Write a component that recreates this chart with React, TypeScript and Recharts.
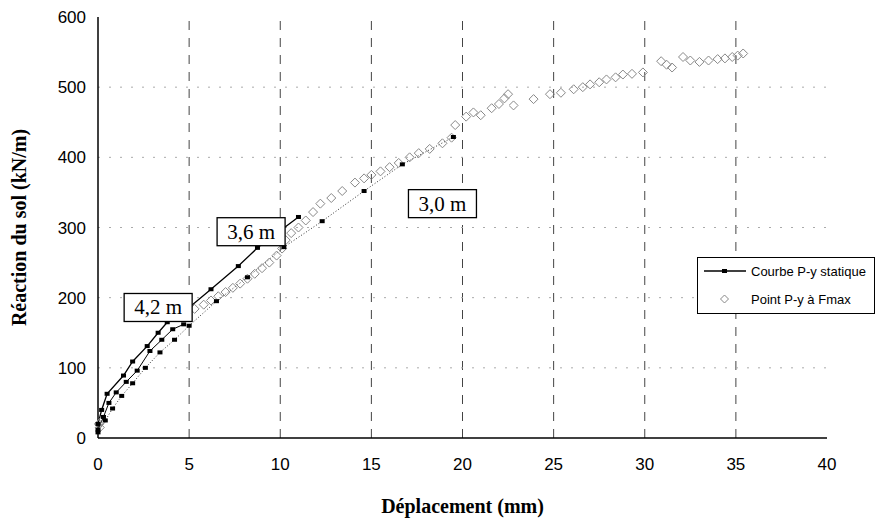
import React from "react";
import {
  ComposedChart,
  Line,
  Scatter,
  XAxis,
  YAxis,
  ReferenceLine,
  ReferenceDot,
} from "recharts";

// static P-y curves, one per depth (displacement mm, reaction kN/m)
const curve42 = [
  { x: 0, y: 12 }, { x: 0.3, y: 30 }, { x: 0.6, y: 50 }, { x: 1.0, y: 65 },
  { x: 1.55, y: 80 }, { x: 2.15, y: 96 }, { x: 2.85, y: 124 }, { x: 3.5, y: 140 },
  { x: 4.1, y: 155 }, { x: 4.7, y: 162 },
];
const curve36 = [
  { x: 0, y: 20 }, { x: 0.2, y: 40 }, { x: 0.5, y: 63 }, { x: 1.4, y: 89 },
  { x: 1.9, y: 109 }, { x: 2.7, y: 131 }, { x: 3.3, y: 150 }, { x: 3.8, y: 165 },
  { x: 5.0, y: 186 }, { x: 6.2, y: 212 }, { x: 7.7, y: 245 }, { x: 8.75, y: 271 },
  { x: 11.0, y: 315 },
];
const curve30 = [
  { x: 0, y: 8 }, { x: 0.4, y: 25 }, { x: 0.8, y: 42 }, { x: 1.3, y: 60 },
  { x: 1.9, y: 78 }, { x: 2.6, y: 100 }, { x: 3.4, y: 122 }, { x: 4.2, y: 140 },
  { x: 5.0, y: 160 }, { x: 6.5, y: 195 }, { x: 8.2, y: 229 }, { x: 10.2, y: 272 },
  { x: 12.3, y: 309 }, { x: 14.6, y: 352 }, { x: 16.7, y: 390 }, { x: 19.5, y: 429 },
];

// P-y points at Fmax
const fmaxPoints = [
  { x: 0.05, y: 20 }, { x: 0.1, y: 15 }, { x: 0.2, y: 24 },
  { x: 5.3, y: 184 }, { x: 5.8, y: 190 }, { x: 6.2, y: 196 }, { x: 6.6, y: 202 },
  { x: 7.0, y: 208 }, { x: 7.4, y: 214 }, { x: 7.8, y: 220 }, { x: 8.2, y: 227 },
  { x: 8.6, y: 234 }, { x: 9.0, y: 242 }, { x: 9.4, y: 250 }, { x: 9.8, y: 260 },
  { x: 10.1, y: 270 }, { x: 10.3, y: 282 }, { x: 10.6, y: 292 }, { x: 11.0, y: 300 },
  { x: 11.4, y: 310 }, { x: 11.8, y: 322 }, { x: 12.2, y: 334 }, { x: 12.8, y: 342 },
  { x: 13.4, y: 352 }, { x: 14.1, y: 364 }, { x: 14.6, y: 370 }, { x: 15.0, y: 375 },
  { x: 15.5, y: 380 }, { x: 16.0, y: 386 }, { x: 16.5, y: 392 }, { x: 17.1, y: 400 },
  { x: 17.6, y: 406 }, { x: 18.2, y: 412 }, { x: 18.9, y: 420 }, { x: 19.4, y: 428 },
  { x: 19.6, y: 446 }, { x: 20.2, y: 458 }, { x: 20.6, y: 464 }, { x: 21.0, y: 460 },
  { x: 21.6, y: 470 }, { x: 22.0, y: 476 }, { x: 22.3, y: 484 }, { x: 22.5, y: 490 },
  { x: 22.8, y: 474 }, { x: 23.9, y: 483 }, { x: 24.8, y: 490 }, { x: 25.4, y: 492 },
  { x: 26.1, y: 497 }, { x: 26.6, y: 500 }, { x: 27.0, y: 504 }, { x: 27.5, y: 507 },
  { x: 27.9, y: 511 }, { x: 28.4, y: 514 }, { x: 28.8, y: 518 }, { x: 29.3, y: 519 },
  { x: 29.9, y: 521 }, { x: 30.9, y: 537 }, { x: 31.2, y: 532 }, { x: 31.5, y: 528 },
  { x: 32.1, y: 543 }, { x: 32.5, y: 538 }, { x: 33.0, y: 536 }, { x: 33.5, y: 538 },
  { x: 34.0, y: 540 }, { x: 34.4, y: 541 }, { x: 34.8, y: 543 }, { x: 35.1, y: 545 },
  { x: 35.4, y: 548 },
];

// depth labels (box centres)
const depthLabels = [
  { x: 3.3, y: 186, text: "4,2 m" },
  { x: 8.4, y: 294, text: "3,6 m" },
  { x: 18.9, y: 334, text: "3,0 m" },
];

const xTicks = [0, 5, 10, 15, 20, 25, 30, 35, 40];
const yTicks = [0, 100, 200, 300, 400, 500, 600];

const sans = "'Liberation Sans', Arial, sans-serif";
const serif = "'Liberation Serif', 'Times New Roman', serif";

const SquareDot = (p: any) => {
  if (p.cx == null || p.cy == null) return <g />;
  return <rect x={p.cx - 2.5} y={p.cy - 2} width={5} height={4} fill="#000" />;
};

const Diamond = (p: any) => {
  const { cx, cy } = p;
  const r = 4.5;
  return (
    <path
      d={`M${cx},${cy - r}L${cx + r},${cy}L${cx},${cy + r}L${cx - r},${cy}Z`}
      fill="none"
      stroke="#888"
      strokeWidth={1}
    />
  );
};

const LabelBox = (text: string) => (p: any) => (
  <g>
    <rect x={p.cx - 34} y={p.cy - 14} width={68} height={28} fill="#fff" stroke="#000" strokeWidth={1.3} />
    <text x={p.cx} y={p.cy + 7} textAnchor="middle" fontFamily={serif} fontSize={21} fill="#000">
      {text}
    </text>
  </g>
);

export default function App() {
  return (
    <div style={{ position: "absolute", left: 0, top: 0, width: 881, height: 528, background: "#fff" }}>
      <ComposedChart width={881} height={528} margin={{ top: 17, right: 54, left: 0, bottom: 10 }}>
        <XAxis
          type="number"
          dataKey="x"
          domain={[0, 40]}
          ticks={xTicks}
          tickSize={0}
          tickMargin={20}
          height={80}
          axisLine={{ stroke: "#000", strokeWidth: 1.5 }}
          tick={{ fontFamily: sans, fontSize: 17, fill: "#000" }}
          label={{
            value: "Déplacement (mm)",
            position: "insideBottom",
            offset: 5,
            style: { fontFamily: serif, fontWeight: "bold", fontSize: 20, fill: "#000" },
          }}
        />
        <XAxis xAxisId="top" orientation="top" type="number" domain={[0, 40]} tick={false} tickLine={false} height={0} axisLine={{ stroke: "#000", strokeWidth: 1.5 }} />
        <YAxis
          type="number"
          dataKey="y"
          domain={[0, 600]}
          ticks={yTicks}
          width={98}
          tickSize={0}
          tickMargin={12}
          axisLine={{ stroke: "#000", strokeWidth: 1.5 }}
          tick={{ fontFamily: sans, fontSize: 17, fill: "#000" }}
          label={{
            value: "Réaction du sol (kN/m)",
            angle: -90,
            position: "insideLeft",
            offset: 19,
            style: { textAnchor: "middle", fontFamily: serif, fontWeight: "bold", fontSize: 20, fill: "#000" },
          }}
        />
        <YAxis yAxisId="r" orientation="right" type="number" domain={[0, 600]} width={0} tick={false} tickLine={false} axisLine={{ stroke: "#000", strokeWidth: 1.5 }} />

        {xTicks.slice(1, -1).map((t) => (
          <ReferenceLine key={"v" + t} x={t} stroke="#444" strokeDasharray="9 8" strokeWidth={1} />
        ))}
        {yTicks.slice(1, -1).map((t) => (
          <ReferenceLine key={"h" + t} y={t} stroke="#aaa" strokeDasharray="2 9" strokeWidth={1} />
        ))}

        <Scatter data={fmaxPoints} shape={Diamond} isAnimationActive={false} />
        <Line data={curve42} dataKey="y" type="linear" stroke="#000" strokeWidth={1} dot={SquareDot} isAnimationActive={false} />
        <Line data={curve36} dataKey="y" type="linear" stroke="#000" strokeWidth={1.3} dot={SquareDot} isAnimationActive={false} />
        <Line data={curve30} dataKey="y" type="linear" stroke="#333" strokeWidth={1} strokeDasharray="1 2" dot={SquareDot} isAnimationActive={false} />

        {depthLabels.map((d) => (
          <ReferenceDot key={d.text} x={d.x} y={d.y} r={0} shape={LabelBox(d.text)} />
        ))}
      </ComposedChart>

      <div
        style={{
          position: "absolute",
          left: 697,
          top: 257,
          width: 176,
          height: 55,
          border: "1px solid #000",
          background: "#fff",
          fontFamily: sans,
          fontSize: 13,
          color: "#000",
        }}
      >
        <svg width={176} height={55} style={{ position: "absolute", left: 0, top: 0 }}>
          <line x1={6} y1={13} x2={48} y2={13} stroke="#000" strokeWidth={1.3} />
          <rect x={24} y={11} width={5} height={4} fill="#000" />
          <path d="M26.5,37L30.5,41L26.5,45L22.5,41Z" fill="none" stroke="#888" />
          <text x={53} y={18} fontFamily={sans} fontSize={13} fill="#000">Courbe P-y statique</text>
          <text x={53} y={46} fontFamily={sans} fontSize={13} fill="#000">Point P-y à Fmax</text>
        </svg>
      </div>
    </div>
  );
}
